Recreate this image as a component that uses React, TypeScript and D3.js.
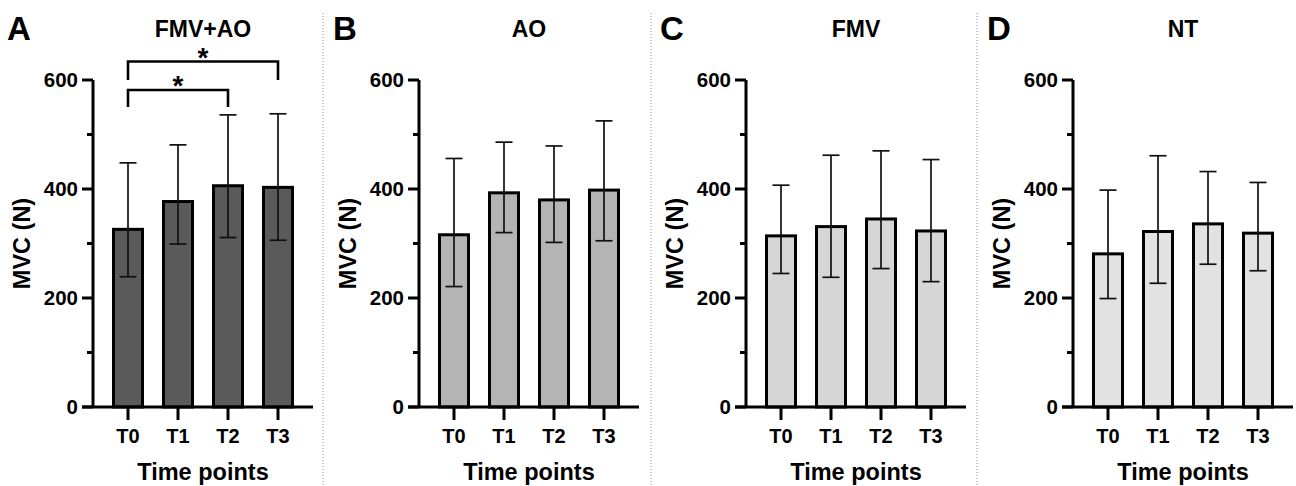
import React from 'react'
import * as d3 from 'd3'

const timePoints = ['T0', 'T1', 'T2', 'T3']
const panelLetters = ['A', 'B', 'C', 'D']
const panelTitles = ['FMV+AO', 'AO', 'FMV', 'NT']
const barFills = ['#5a5a5a', '#b4b4b4', '#d6d6d6', '#e2e2e2']

// means and error bar ends (upper / lower)
const fmvAoMean = [326, 377, 406, 403]
const fmvAoHigh = [448, 481, 536, 538]
const fmvAoLow = [239, 299, 311, 306]

const aoMean = [316, 393, 380, 398]
const aoHigh = [456, 486, 479, 525]
const aoLow = [221, 320, 302, 305]

const fmvMean = [314, 331, 345, 323]
const fmvHigh = [407, 462, 470, 454]
const fmvLow = [245, 238, 254, 230]

const ntMean = [281, 322, 336, 319]
const ntHigh = [398, 461, 432, 412]
const ntLow = [199, 227, 262, 250]

const yTicks = [0, 200, 400, 600]
const yMinorTicks = [100, 300, 500]

// significance brackets in panel A: [from, to]
const sigPairs = [
  ['T0', 'T2'],
  ['T0', 'T3'],
]

const panels = [
  { mean: fmvAoMean, high: fmvAoHigh, low: fmvAoLow },
  { mean: aoMean, high: aoHigh, low: aoLow },
  { mean: fmvMean, high: fmvHigh, low: fmvLow },
  { mean: ntMean, high: ntHigh, low: ntLow },
]

const axisX = [93, 419, 746, 1073]
const dividers = [323, 651, 977]
const font = "'Liberation Sans', Arial, Helvetica, sans-serif"

function Panel({ idx }: { idx: number }) {
  const p = panels[idx]
  const plotW = 220
  const y = d3.scaleLinear().domain([0, 600]).range([407, 80])
  const x = d3
    .scaleBand()
    .domain(timePoints)
    .range([10, 210])
    .paddingInner(0.42)
    .paddingOuter(0.21)
  const bw = x.bandwidth()
  const cx = (t: string) => (x(t) ?? 0) + bw / 2
  const capW = 17

  return (
    <g transform={`translate(${axisX[idx]},0)`} fontFamily={font} fontWeight="bold" fill="#000">
      <text x={-86} y={40} fontSize={33}>
        {panelLetters[idx]}
      </text>
      <text x={plotW / 2} y={37} fontSize={23} textAnchor="middle">
        {panelTitles[idx]}
      </text>

      {/* bars */}
      {timePoints.map((t, i) => (
        <rect
          key={t}
          x={x(t)}
          y={y(p.mean[i])}
          width={bw}
          height={y(0) - y(p.mean[i])}
          fill={barFills[idx]}
          stroke="#000"
          strokeWidth={3}
        />
      ))}

      {/* error bars */}
      {timePoints.map((t, i) => (
        <g key={'e' + t} stroke="#111" strokeWidth={1.7}>
          <line x1={cx(t)} x2={cx(t)} y1={y(p.high[i])} y2={y(p.low[i])} />
          <line x1={cx(t) - capW / 2} x2={cx(t) + capW / 2} y1={y(p.high[i])} y2={y(p.high[i])} />
          <line x1={cx(t) - capW / 2} x2={cx(t) + capW / 2} y1={y(p.low[i])} y2={y(p.low[i])} />
        </g>
      ))}

      {/* y axis */}
      <line x1={0} x2={0} y1={y(600)} y2={y(0)} stroke="#000" strokeWidth={3} />
      {yTicks.map((v) => (
        <g key={v}>
          <line x1={-11} x2={0} y1={y(v)} y2={y(v)} stroke="#000" strokeWidth={3} />
          <text x={-15} y={y(v)} dy="0.36em" fontSize={20.5} textAnchor="end">
            {v}
          </text>
        </g>
      ))}
      {yMinorTicks.map((v) => (
        <line key={v} x1={-6} x2={0} y1={y(v)} y2={y(v)} stroke="#000" strokeWidth={3} />
      ))}

      {/* x axis */}
      <line x1={-11} x2={plotW} y1={y(0)} y2={y(0)} stroke="#000" strokeWidth={3} />
      {timePoints.map((t) => (
        <g key={'x' + t}>
          <line x1={cx(t)} x2={cx(t)} y1={y(0)} y2={y(0) + 13} stroke="#000" strokeWidth={3} />
          <text x={cx(t)} y={443} fontSize={20} textAnchor="middle">
            {t}
          </text>
        </g>
      ))}

      <text x={110} y={480} fontSize={23.5} textAnchor="middle">
        Time points
      </text>
      <text
        transform={`translate(${-71},${(y(0) + y(600)) / 2}) rotate(-90)`}
        dy="0.36em"
        fontSize={23.5}
        textAnchor="middle"
      >
        MVC (N)
      </text>

      {idx === 0 &&
        sigPairs.map(([a, b], k) => {
          const top = k === 0 ? 90 : 61.5
          const legBottom = k === 0 ? 107 : 80
          return (
            <g key={a + b}>
              <path
                d={`M${cx(a)},${legBottom}V${top}H${cx(b)}V${legBottom}`}
                fill="none"
                stroke="#000"
                strokeWidth={2.6}
              />
              <text x={(cx(a) + cx(b)) / 2} y={top + 5} fontSize={28} textAnchor="middle">
                *
              </text>
            </g>
          )
        })}
    </g>
  )
}

export default function App() {
  return (
    <svg
      width={1296}
      height={486}
      style={{ position: 'absolute', left: 0, top: 0, background: '#fff' }}
    >
      <rect width={1296} height={486} fill="#fff" />
      {dividers.map((dx) => (
        <line
          key={dx}
          x1={dx}
          x2={dx}
          y1={13}
          y2={486}
          stroke="#999"
          strokeWidth={1}
          strokeDasharray="1 2"
        />
      ))}
      {panels.map((_, i) => (
        <Panel key={i} idx={i} />
      ))}
    </svg>
  )
}
